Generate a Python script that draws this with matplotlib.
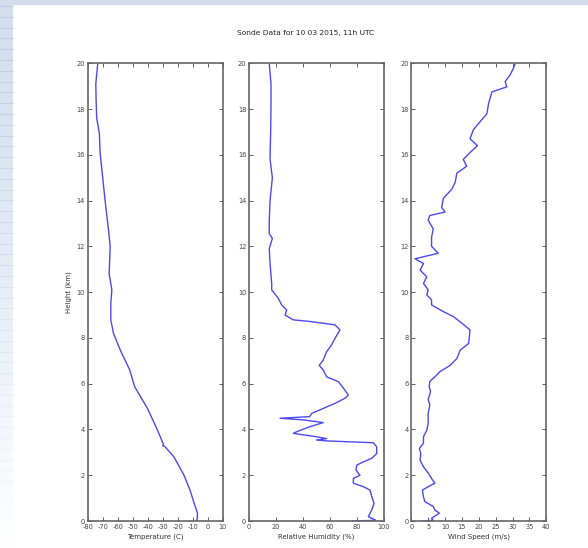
import numpy as np
import matplotlib
matplotlib.use("Agg")
import matplotlib.pyplot as plt
from matplotlib.patches import Rectangle

# Sonde profiles (height in km)
temp_h = [0, 0.1, 0.34, 0.77, 1.35, 2.0, 2.8, 3.25, 3.3, 3.35, 4.0, 4.9, 5.87, 6.6, 7.47,
          8.2, 8.78, 9.5, 10.1, 10.8, 11.98, 12.7, 14.0, 15.0, 16.06, 16.93, 17.6, 18.4, 19.1, 20]
temp_c = [-7.5, -7.0, -6.8, -9.0, -11.8, -15.8, -22.5, -28.5, -30.0, -29.5, -33.7, -40.0, -48.7,
          -52.0, -58.3, -62.8, -64.6, -64.6, -63.9, -65.7, -65.0, -66.1, -68.4, -70.0, -71.7,
          -72.2, -74.0, -74.4, -74.6, -73.3]

rh_h = [0, 0.03, 0.19, 0.48, 0.77, 1.06, 1.35, 1.5, 1.65, 1.86, 2.0, 2.22, 2.44, 2.55, 2.74,
        2.95, 3.24, 3.42, 3.5, 3.54, 3.6, 3.68, 3.83, 3.9, 4.12, 4.3, 4.42, 4.49, 4.56, 4.7,
        4.92, 5.14, 5.36, 5.5, 5.8, 6.09, 6.3, 6.6, 6.8, 7.03, 7.4, 7.7, 7.98, 8.35, 8.57,
        8.72, 8.79, 9.0, 9.22, 9.44, 9.73, 10.1, 10.38, 11.25, 11.9, 12.35, 12.56, 13.15,
        14.0, 15.0, 15.8, 16.93, 18.1, 19.1, 20]
rh_pct = [76, 94, 88.4, 90.9, 92.6, 91, 89.6, 84.7, 77.3, 77.3, 82.2, 79.3, 79.8, 83.5, 90.9,
          94.6, 94.6, 92, 57.5, 50, 57.5, 50, 32.8, 35.3, 45, 55, 40, 23, 45, 46.4,
          55, 63.7, 71, 73.6, 70, 66.2, 57.5, 55, 52, 55, 57.5, 61.2, 63.7, 67.4, 63.7,
          45, 32.8, 26.7, 27.9, 24.2, 21.7, 16.8, 16.8, 15.6, 15, 17.3, 15, 15,
          15.6, 17.3, 15.6, 16, 16.3, 16.3, 15]

wind_h = [0, 0.03, 0.12, 0.34, 0.48, 0.63, 0.85, 1.06, 1.35, 1.5, 1.65, 1.86, 2.1, 2.37, 2.66,
          2.95, 3.17, 3.4, 3.68, 3.97, 4.27, 4.7, 5.07, 5.3, 5.65, 5.87, 6.1, 6.3, 6.53, 6.8,
          7.1, 7.47, 7.76, 8.35, 8.64, 8.93, 9.15, 9.44, 9.66, 9.88, 10.1, 10.38, 10.67, 10.96,
          11.25, 11.46, 11.7, 12.0, 12.4, 12.76, 13.15, 13.35, 13.5, 13.7, 14.1, 14.5, 14.8,
          15.2, 15.5, 15.8, 16.1, 16.4, 16.7, 17.1, 17.45, 17.8, 18.25, 18.75, 18.97, 19.2,
          19.5, 19.8, 20]
wind_ms = [3.1, 6.5, 6, 8.3, 7, 6.5, 4, 3.6, 3.3, 5, 7, 6, 5, 3.6, 2.6,
           2.8, 2.4, 3.6, 3.6, 4.6, 5, 5, 5.5, 5, 5.7, 5.3, 5.5, 7, 8.5, 11.5,
           13.5, 14.5, 17, 17.4, 15, 12.5, 9.5, 6, 6, 4.6, 5, 3.6, 4.6, 2.6,
           3.6, 1.1, 8, 6, 6, 6.5, 5, 5.5, 10, 9, 9.5, 12, 13,
           13.5, 16.4, 15.4, 17.4, 19.6, 17.4, 18.4, 20.4, 22.4, 22.9, 23.9, 28.3, 27.8,
           29.3, 30.3, 30.8]

height_ticks = list(range(0, 21, 2))
temp_ticks = list(range(-80, 11, 10))
rh_ticks = list(range(0, 101, 20))
wind_ticks = list(range(0, 41, 5))

plt.rcParams['font.family'] = 'DejaVu Sans'
plt.rcParams['axes.unicode_minus'] = False

W, H = 588, 548
fig = plt.figure(figsize=(W / 100, H / 100), dpi=100, facecolor='white')

# slide-like background: top band and striped left margin
bg = fig.add_axes([0, 0, 1, 1], zorder=-10)
grad = np.linspace(0, 1, 200)
strip = np.ones((200, 1, 3))
top_col = np.array([0.83, 0.87, 0.94])
for i in range(3):
    strip[:, 0, i] = top_col[i] + (1 - top_col[i]) * grad ** 1.2
bg.imshow(strip, extent=(0, 12.7, H, 0), aspect='auto')
for y in np.arange(6, H, 10.8):
    a = max(0.0, 0.45 * (1 - y / H))
    bg.plot([0, 12.7], [y, y], color='#aab4cc', lw=0.8, alpha=a)
bg.add_patch(Rectangle((0, 0), W, 3.5, color='#d3dbec'))
bg.set_xlim(0, W)
bg.set_ylim(H, 0)
bg.axis('off')

bottom = (H - 521) / H
height = (521 - 63.3) / H
width = 135 / W
lefts = [87.7 / W, 249 / W, 411.3 / W]

panels = [
    (temp_c, temp_h, (-80, 10), temp_ticks, 'Temperature (C)'),
    (rh_pct, rh_h, (0, 100), rh_ticks, 'Relative Humidity (%)'),
    (wind_ms, wind_h, (0, 40), wind_ticks, 'Wind Speed (m/s)'),
]

for i, (xv, hv, xlim, xt, xlabel) in enumerate(panels):
    ax = fig.add_axes([lefts[i], bottom, width, height])
    ax.plot(xv, hv, color='#4a4af0', lw=1.0)
    ax.set_xlim(*xlim)
    ax.set_ylim(0, 20)
    ax.set_xticks(xt)
    ax.set_yticks(height_ticks)
    ax.tick_params(direction='in', length=3, width=0.6, top=True, right=True,
                   labelsize=4.8, colors='#444444', pad=2)
    for s in ax.spines.values():
        s.set_color('#666666')
        s.set_linewidth(1.2)
    ax.set_xlabel(xlabel, fontsize=5, color='#333333', labelpad=3)
    if i == 0:
        ax.set_ylabel('Height (km)', fontsize=5, color='#333333', labelpad=3)

fig.text(0.52, 1 - 33 / H, 'Sonde Data for 10 03 2015, 11h UTC', ha='center', va='center',
         fontsize=5.4, color='#222222')

fig.savefig('out.png', dpi=100, facecolor=fig.get_facecolor())
